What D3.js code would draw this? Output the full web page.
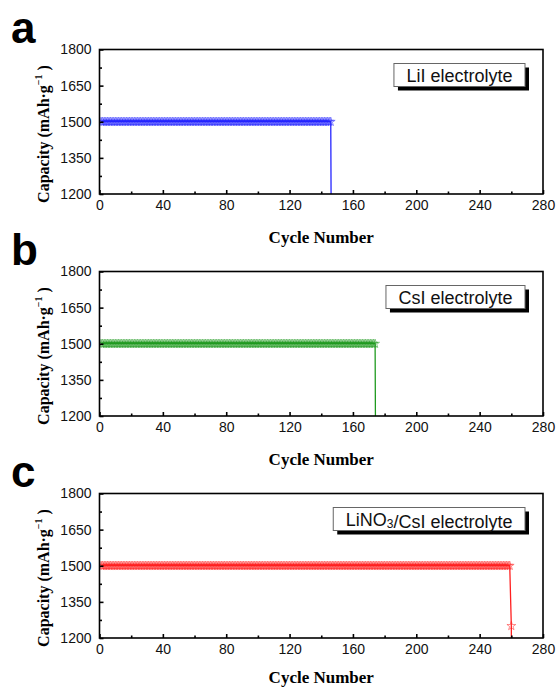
<!DOCTYPE html>
<html>
<head>
<meta charset="utf-8">
<script src="https://cdn.jsdelivr.net/npm/d3@7"></script>
<style>
  html, body { margin: 0; padding: 0; background: #fff; }
  svg { display: block; }
</style>
</head>
<body>
<svg id="chart" width="556" height="688"></svg>
<script>
// Galvanostatic cycling at a fixed capacity cut-off for three electrolytes
const cycleTicks = [0, 40, 80, 120, 160, 200, 240, 280];
const cycleMinorTicks = [20, 60, 100, 140, 180, 220, 260];
const capacityTicks = [1200, 1350, 1500, 1650, 1800];
const capacityMinorTicks = [1275, 1425, 1575, 1725];

const panelLetters = ["a", "b", "c"];
const electrolyteLabels = ["LiI electrolyte", "CsI electrolyte", "LiNO3/CsI electrolyte"];

// capacity held at the cut-off until the cell fails
const cutoffCapacity = [1500, 1500, 1500];
const stableCycles = [146, 174, 259];          // last cycle delivering the cut-off capacity
const failureCycles = [[147], [175], [260, 261]];
const failureCapacity = [[0], [0], [1250, 0]];

const seriesColors = ["#2424ff", "#1f9a1f", "#ff2020"];

const svg = d3.select("#chart");
const plotLeft = 99.5, plotRight = 543, plotH = 144.5;
const panelTops = [49.5, 271.5, 493.5];

const x = d3.scaleLinear().domain([0, 280]).range([plotLeft, plotRight]);
const star = d3.symbol().type(d3.symbolStar).size(24);
const fmt = d3.format("d");

panelLetters.forEach((letter, i) => {
  const top = panelTops[i];
  const bottom = top + plotH;
  const y = d3.scaleLinear().domain([1200, 1800]).range([bottom, top]);
  const g = svg.append("g");

  // series points
  const pts = [];
  for (let c = 1; c <= stableCycles[i]; c++) pts.push({ cycle: c, cap: cutoffCapacity[i] });
  failureCycles[i].forEach((c, k) => pts.push({ cycle: c, cap: failureCapacity[i][k] }));

  // clip to plot area
  const clipId = "clip" + i;
  svg.append("clipPath").attr("id", clipId)
    .append("rect")
    .attr("x", plotLeft).attr("y", top - 6)
    .attr("width", plotRight - plotLeft).attr("height", plotH + 6);

  const data = g.append("g").attr("clip-path", `url(#${clipId})`);
  data.append("path")
    .datum(pts)
    .attr("fill", "none")
    .attr("stroke", seriesColors[i])
    .attr("stroke-width", 1.3)
    .attr("d", d3.line().x(d => x(d.cycle)).y(d => y(d.cap)));

  data.selectAll("path.mk")
    .data(pts.filter(d => d.cap >= 1200))
    .join("path")
    .attr("class", "mk")
    .attr("transform", d => `translate(${x(d.cycle)},${y(d.cap)})`)
    .attr("d", star)
    .attr("fill", "none")
    .attr("stroke", seriesColors[i])
    .attr("stroke-opacity", 0.85)
    .attr("stroke-width", 0.6);

  // axes
  const styleAxis = sel => {
    sel.select(".domain").remove();
    sel.selectAll("line").attr("stroke", "#000").attr("stroke-width", 1.6);
    sel.selectAll("text")
      .attr("font-family", "'Liberation Sans', Arial, sans-serif")
      .attr("font-size", 14).attr("fill", "#111");
  };

  g.append("g").attr("transform", `translate(0,${bottom})`)
    .call(d3.axisBottom(x).tickValues(cycleTicks).tickFormat(fmt).tickSizeInner(-4).tickSizeOuter(0).tickPadding(6))
    .call(styleAxis);
  g.append("g").attr("transform", `translate(0,${bottom})`)
    .call(d3.axisBottom(x).tickValues(cycleMinorTicks).tickSizeInner(-2.5).tickSizeOuter(0).tickFormat(""))
    .call(styleAxis);
  g.append("g").attr("transform", `translate(${plotLeft},0)`)
    .call(d3.axisLeft(y).tickValues(capacityTicks).tickFormat(fmt).tickSizeInner(-4).tickSizeOuter(0).tickPadding(8))
    .call(styleAxis);
  g.append("g").attr("transform", `translate(${plotLeft},0)`)
    .call(d3.axisLeft(y).tickValues(capacityMinorTicks).tickSizeInner(-2.5).tickSizeOuter(0).tickFormat(""))
    .call(styleAxis);

  // frame
  g.append("rect")
    .attr("x", plotLeft).attr("y", top)
    .attr("width", plotRight - plotLeft).attr("height", plotH)
    .attr("fill", "none").attr("stroke", "#000").attr("stroke-width", 1.6);

  // axis titles
  g.append("text")
    .attr("x", (plotLeft + plotRight) / 2).attr("y", Math.min(bottom + 49, 683))
    .attr("text-anchor", "middle")
    .attr("font-family", "'Liberation Serif', 'Times New Roman', serif")
    .attr("font-weight", "bold").attr("font-size", 17)
    .text("Cycle Number");

  const yt = g.append("text")
    .attr("transform", `translate(49,${top + 84.5}) rotate(-90)`)
    .attr("text-anchor", "middle")
    .attr("font-family", "'Liberation Serif', 'Times New Roman', serif")
    .attr("font-weight", "bold").attr("font-size", 16);
  yt.append("tspan").text("Capacity (mAh\u00B7g");
  yt.append("tspan").attr("dy", -7).attr("font-size", 10).text("\u22121");
  yt.append("tspan").attr("dy", 7).text(" )");

  // panel letter
  g.append("text")
    .attr("x", 11).attr("y", top - 7)
    .attr("font-family", "'Liberation Sans', Arial, sans-serif")
    .attr("font-weight", "bold").attr("font-size", 44)
    .text(letter);

  // legend box with drop shadow
  const lg = g.append("g");
  const lt = lg.append("text")
    .attr("font-family", "'Liberation Sans', Arial, sans-serif")
    .attr("font-size", 18).attr("fill", "#111");
  electrolyteLabels[i].split(/(\d)/).forEach(part => {
    if (/^\d$/.test(part)) {
      lt.append("tspan").attr("font-size", 12).attr("dy", 2).text(part);
      lt.append("tspan").attr("dy", -2).text("");
    } else if (part) {
      lt.append("tspan").text(part);
    }
  });
  const tw = lt.node().getComputedTextLength();
  const bw = tw + 25, bh = 23;
  const bx = 525 - bw, by = top + 14;
  lg.insert("rect", "text")
    .attr("x", bx + 4).attr("y", by + 4).attr("width", bw).attr("height", bh)
    .attr("fill", "#000");
  lg.insert("rect", "text")
    .attr("x", bx).attr("y", by).attr("width", bw).attr("height", bh)
    .attr("fill", "#fff").attr("stroke", "#666").attr("stroke-width", 1);
  lt.attr("x", bx + 12.5).attr("y", by + 18);
});
</script>
</body>
</html>
